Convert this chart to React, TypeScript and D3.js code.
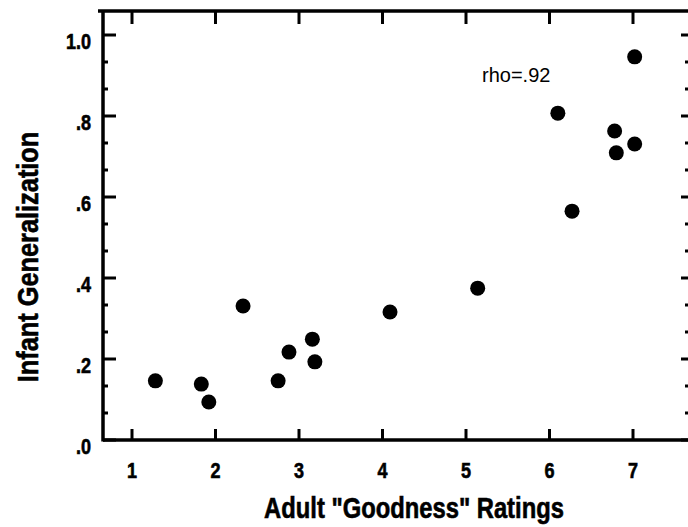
import * as d3 from "d3";

// ratings (x) and infant generalization (y)
const goodness = [1.28, 1.83, 1.92, 2.33, 2.75, 2.88, 3.16, 3.19, 4.09, 5.14, 6.1, 6.27, 6.78, 6.8, 7.02, 7.02];
const generalization = [0.146, 0.138, 0.094, 0.331, 0.146, 0.217, 0.249, 0.193, 0.316, 0.375, 0.807, 0.565, 0.763, 0.709, 0.731, 0.946];

const xTicks = [1, 2, 3, 4, 5, 6, 7];
const yTicks = [0, 0.2, 0.4, 0.6, 0.8, 1.0];
const yTickLabels = [".0", ".2", ".4", ".6", ".8", "1.0"];

const W = 688, H = 527;
const frame = { left: 103, right: 690, top: 11, bottom: 440 };

const sans = "'Liberation Sans', Arial, Helvetica, sans-serif";

// bold condensed label (helvetica narrow look), squeezed around its anchor
function Narrow({ x, y, size, anchor = "start", rotate = 0, squeeze = 0.82, children }: any) {
  return (
    <text
      transform={`translate(${x},${y}) rotate(${rotate}) scale(${squeeze},1)`}
      textAnchor={anchor}
      fontFamily={sans}
      fontWeight="bold"
      fontSize={size}
      fill="#000"
      stroke="#000"
      strokeWidth={0.6}
    >
      {children}
    </text>
  );
}

export default function App() {
  const x = d3.scaleLinear().domain([1, 7]).range([132, 633]);
  const y = d3.scaleLinear().domain([0, 1]).range([440, 35]);

  // minor ticks every third of a major step
  const minor = d3.range(1, 16).filter(k => k % 3 !== 0).map(k => k * 0.2 / 3);

  return (
    <svg width={W} height={H} style={{ position: "absolute", left: 0, top: 0, background: "#fff" }}>
      {/* frame */}
      <g stroke="#000" fill="none" strokeWidth={3.5}>
        <line x1={frame.left} x2={frame.left} y1={frame.top} y2={frame.bottom + 1.5} />
        <line x1={frame.left} x2={frame.right} y1={frame.bottom} y2={frame.bottom} />
        <line x1={frame.left - 5} x2={frame.right} y1={frame.top} y2={frame.top} />
        <line x1={frame.right} x2={frame.right} y1={frame.top} y2={frame.bottom} />
      </g>

      {/* ticks on all four sides */}
      <g stroke="#000" strokeWidth={3}>
        {xTicks.map(t => (
          <g key={t}>
            <line x1={x(t)} x2={x(t)} y1={frame.bottom} y2={frame.bottom - 11} />
            <line x1={x(t)} x2={x(t)} y1={frame.top} y2={frame.top + 13} />
          </g>
        ))}
        {yTicks.map(t => (
          <g key={t}>
            <line x1={frame.left} x2={frame.left + 13} y1={y(t)} y2={y(t)} />
            <line x1={frame.right} x2={frame.right - 9} y1={y(t)} y2={y(t)} />
          </g>
        ))}
        {minor.map(t => (
          <g key={t}>
            <line x1={frame.left} x2={frame.left + 5} y1={y(t)} y2={y(t)} />
            <line x1={frame.right} x2={frame.right - 5} y1={y(t)} y2={y(t)} />
          </g>
        ))}
      </g>

      {/* tick labels */}
      {xTicks.map(t => (
        <Narrow key={t} x={x(t)} y={478} size={22} anchor="middle">{t}</Narrow>
      ))}
      {yTicks.map((t, i) => (
        <Narrow key={t} x={91} y={y(t) + 14} size={22} anchor="end">{yTickLabels[i]}</Narrow>
      ))}

      {/* axis titles */}
      <Narrow x={414} y={518} size={29} anchor="middle">Adult "Goodness" Ratings</Narrow>
      <Narrow x={38} y={257} size={30} anchor="middle" rotate={-90} squeeze={0.845}>Infant Generalization</Narrow>

      <text x={482} y={82} fontFamily={sans} fontSize={20} fill="#000">rho=.92</text>

      {/* points */}
      <g fill="#000">
        {goodness.map((g, i) => (
          <circle key={i} cx={x(g)} cy={y(generalization[i])} r={7.5} />
        ))}
      </g>
    </svg>
  );
}
